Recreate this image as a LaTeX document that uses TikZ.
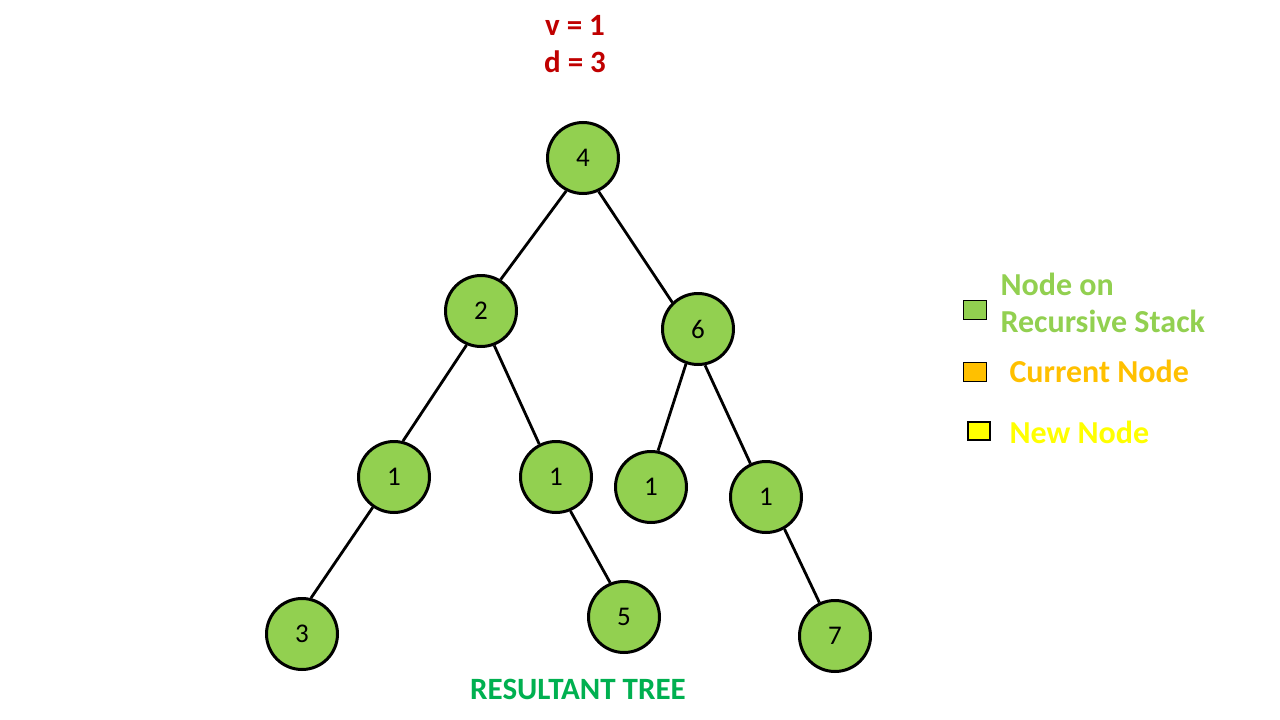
\documentclass[tikz,border=0pt]{standalone}
\usepackage{fontspec}
\setmainfont{Carlito}
\definecolor{nodegreen}{HTML}{92D050}
\definecolor{titlered}{HTML}{C00000}
\definecolor{titlegreen}{HTML}{00B050}
\definecolor{legorange}{HTML}{FFC000}
\definecolor{legyellow}{HTML}{FFFF00}
\begin{document}
\begin{tikzpicture}[x=1pt,y=-1pt,
  tnode/.style={circle,draw=black,line width=3pt,fill=nodegreen,minimum size=71pt,inner sep=0pt,font=\fontsize{27}{30}\selectfont},
  edge/.style={draw=black,line width=2.8pt},
  legbox/.style={draw=black,line width=1.2pt,minimum width=23pt,minimum height=19pt,inner sep=0pt},
  legtext/.style={font=\bfseries\fontsize{32}{37}\selectfont,anchor=west,align=left}]
\useasboundingbox (0,0) rectangle (1280,720);
\fill[white] (0,0) rectangle (1280,720);
% title
\node[font=\bfseries\fontsize{31}{37}\selectfont,text=titlered,align=center] (title) at (575,44) {v = 1\\d = 3};
% tree nodes
\node[tnode] (n4) at (583,158) {4};
\node[tnode] (n2) at (481,311) {2};
\node[tnode] (n6) at (698,329) {6};
\node[tnode] (n1a) at (394,477) {1};
\node[tnode] (n1b) at (556,477) {1};
\node[tnode] (n1c) at (651,487) {1};
\node[tnode] (n1d) at (766,497) {1};
\node[tnode] (n3) at (302,634) {3};
\node[tnode] (n5) at (624,617) {5};
\node[tnode] (n7) at (835,636) {7};
% edges
\draw[edge] (n4.243) -- (n2.58);
\draw[edge] (n4.295) -- (n6.134);
\draw[edge] (n2.247) -- (n1a.76);
\draw[edge] (n2.291) -- (n1b.117);
\draw[edge] (n6.251) -- (n1c.79);
\draw[edge] (n6.281) -- (n1d.115);
\draw[edge] (n1a.235) -- (n3.76);
\draw[edge] (n1b.293) -- (n5.112);
\draw[edge] (n1d.300) -- (n7.115);
% caption
\node[font=\bfseries\fontsize{31}{36}\selectfont,text=titlegreen] (cap) at (578,689) {RESULTANT TREE};
% legend
\node[legbox,fill=nodegreen] (lg1) at (975,310) {};
\node[legbox,fill=legorange] (lg2) at (975,372) {};
\node[legbox,fill=legyellow,minimum width=22pt,minimum height=18pt] (lg3) at (979,431) {};
\node[legtext,text=nodegreen] (lt1) at (997,303) {Node on\\Recursive Stack};
\node[legtext,text=legorange] (lt2) at (1006,371) {Current Node};
\node[legtext,text=legyellow] (lt3) at (1006,432) {New Node};
\end{tikzpicture}
\end{document}
